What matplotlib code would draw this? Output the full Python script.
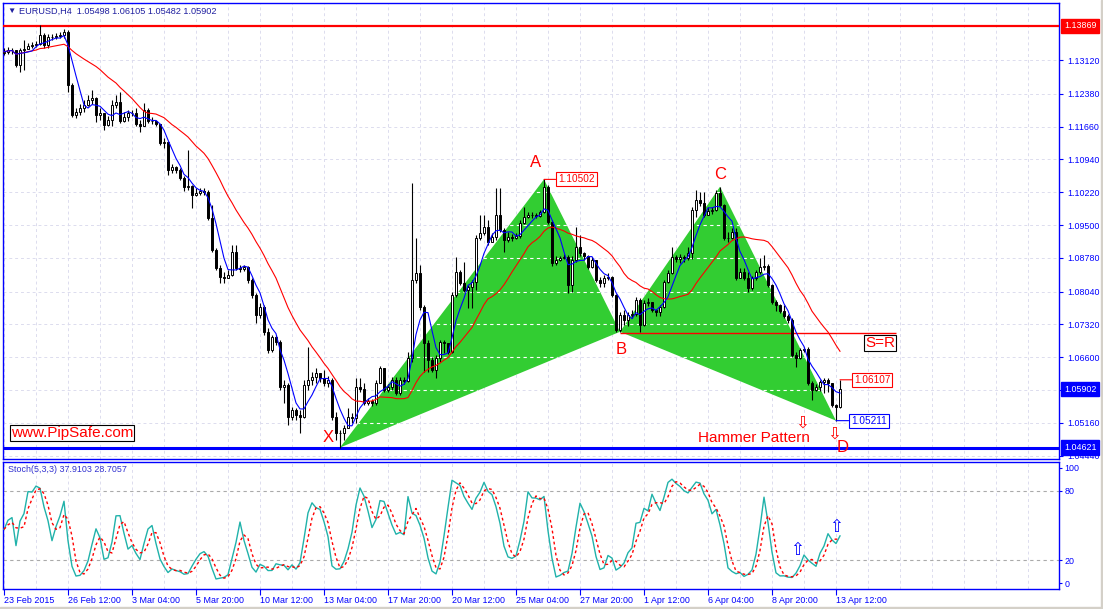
import numpy as np
import pandas as pd
import matplotlib
matplotlib.use('Agg')
import matplotlib.pyplot as plt
from matplotlib.patches import Polygon, Rectangle

plt.rcParams['font.family'] = ['Liberation Sans', 'DejaVu Sans']

# EURUSD H4, bar 0 = 23 Feb 2015 20:00
first_open = 1.1328
closes = [
    1.1330, 1.1334, 1.1334, 1.1301, 1.1334, 1.1336, 1.1343, 1.1345, 1.1347, 1.1367,
    1.1345, 1.1362, 1.1362, 1.1365, 1.1367, 1.1373, 1.1257, 1.1191, 1.1198, 1.1207,
    1.1213, 1.1224, 1.1229, 1.1191, 1.1196, 1.1170, 1.1180, 1.1213, 1.1220, 1.1178,
    1.1187, 1.1196, 1.1196, 1.1172, 1.1167, 1.1202, 1.1178, 1.1178, 1.1172, 1.1130,
    1.1132, 1.1071, 1.1077, 1.1071, 1.1053, 1.1034, 1.1036, 1.1016, 1.1020, 1.1025,
    1.1023, 1.0966, 1.0895, 1.0856, 1.0836, 1.0834, 1.0841, 1.0891, 1.0856, 1.0854,
    1.0858, 1.0829, 1.0797, 1.0753, 1.0770, 1.0715, 1.0676, 1.0705, 1.0694, 1.0595,
    1.0599, 1.0529, 1.0544, 1.0533, 1.0529, 1.0599, 1.0610, 1.0616, 1.0625, 1.0614,
    1.0603, 1.0610, 1.0529, 1.0494, 1.0494, 1.0505, 1.0529, 1.0527, 1.0595, 1.0590,
    1.0560, 1.0564, 1.0560, 1.0603, 1.0636, 1.0588, 1.0595, 1.0610, 1.0581, 1.0610,
    1.0608, 1.0658, 1.0829, 1.0845, 1.0770, 1.0692, 1.0654, 1.0632, 1.0658, 1.0694,
    1.0692, 1.0672, 1.0797, 1.0847, 1.0823, 1.0808, 1.0814, 1.0825, 1.0922, 1.0933,
    1.0946, 1.0913, 1.0924, 1.0972, 1.0939, 1.0917, 1.0924, 1.0922, 1.0926, 1.0955,
    1.0968, 1.0972, 1.0972, 1.0970, 1.0979, 1.1034, 1.0957, 1.0867, 1.0873, 1.0878,
    1.0880, 1.0818, 1.0873, 1.0902, 1.0889, 1.0882, 1.0858, 1.0873, 1.0829, 1.0823,
    1.0834, 1.0836, 1.0797, 1.0720, 1.0753, 1.0742, 1.0753, 1.0755, 1.0786, 1.0731,
    1.0779, 1.0781, 1.0764, 1.0760, 1.0770, 1.0825, 1.0845, 1.0880, 1.0876, 1.0880,
    1.0878, 1.0889, 1.0983, 1.1005, 1.0998, 1.0972, 1.0981, 1.0983, 1.1020, 1.0994,
    1.0922, 1.0922, 1.0935, 1.0834, 1.0847, 1.0834, 1.0812, 1.0834, 1.0847, 1.0858,
    1.0860, 1.0818, 1.0781, 1.0775, 1.0762, 1.0751, 1.0742, 1.0665, 1.0658, 1.0676,
    1.0678, 1.0603, 1.0588, 1.0595, 1.0605, 1.0610, 1.0603, 1.0555, 1.0550, 1.0590,
]
highs = [
    1.1338, 1.1341, 1.1338, 1.1332, 1.1338, 1.1356, 1.1349, 1.1351, 1.1354, 1.1389,
    1.1371, 1.1369, 1.1369, 1.1371, 1.1373, 1.1380, 1.1378, 1.1262, 1.1207, 1.1216,
    1.1224, 1.1235, 1.1246, 1.1231, 1.1207, 1.1191, 1.1189, 1.1224, 1.1235, 1.1242,
    1.1198, 1.1202, 1.1202, 1.1207, 1.1180, 1.1218, 1.1207, 1.1187, 1.1180, 1.1172,
    1.1141, 1.1135, 1.1084, 1.1080, 1.1075, 1.1058, 1.1115, 1.1038, 1.1031, 1.1031,
    1.1031, 1.1027, 1.0994, 1.0900, 1.0862, 1.0847, 1.0851, 1.0906, 1.0906, 1.0862,
    1.0862, 1.0860, 1.0834, 1.0801, 1.0779, 1.0775, 1.0724, 1.0709, 1.0709, 1.0698,
    1.0610, 1.0603, 1.0551, 1.0549, 1.0544, 1.0610, 1.0682, 1.0627, 1.0636, 1.0625,
    1.0632, 1.0619, 1.0614, 1.0540, 1.0501, 1.0512, 1.0549, 1.0538, 1.0614, 1.0614,
    1.0603, 1.0571, 1.0569, 1.0610, 1.0641, 1.0636, 1.0601, 1.0616, 1.0616, 1.0616,
    1.0616, 1.0672, 1.1042, 1.0922, 1.0862, 1.0775, 1.0698, 1.0661, 1.0665, 1.0698,
    1.0698, 1.0687, 1.0803, 1.0880, 1.0851, 1.0869, 1.0818, 1.0829, 1.0928, 1.0972,
    1.0972, 1.0961, 1.0933, 1.1031, 1.1031, 1.0944, 1.0935, 1.0930, 1.0933, 1.0961,
    1.0990, 1.0979, 1.0979, 1.0977, 1.0983, 1.1050, 1.1038, 1.0961, 1.0882, 1.0882,
    1.0887, 1.0884, 1.0882, 1.0946, 1.0928, 1.0891, 1.0884, 1.0880, 1.0869, 1.0836,
    1.0841, 1.0845, 1.0838, 1.0799, 1.0760, 1.0764, 1.0760, 1.0764, 1.0792, 1.0790,
    1.0786, 1.0790, 1.0779, 1.0766, 1.0775, 1.0829, 1.0851, 1.0902, 1.0884, 1.0887,
    1.0884, 1.0902, 1.0990, 1.1027, 1.1022, 1.1022, 1.0990, 1.0990, 1.1027, 1.1034,
    1.0996, 1.0935, 1.0944, 1.0944, 1.0856, 1.0856, 1.0847, 1.0838, 1.0851, 1.0878,
    1.0884, 1.0865, 1.0821, 1.0786, 1.0777, 1.0775, 1.0755, 1.0746, 1.0672, 1.0680,
    1.0682, 1.0682, 1.0608, 1.0601, 1.0610, 1.0614, 1.0614, 1.0588, 1.0558, 1.0611,
]
lows = [
    1.1323, 1.1325, 1.1325, 1.1297, 1.1286, 1.1290, 1.1336, 1.1338, 1.1341, 1.1345,
    1.1338, 1.1338, 1.1356, 1.1358, 1.1360, 1.1360, 1.1242, 1.1187, 1.1185, 1.1191,
    1.1198, 1.1211, 1.1216, 1.1176, 1.1180, 1.1158, 1.1167, 1.1167, 1.1207, 1.1174,
    1.1176, 1.1178, 1.1189, 1.1167, 1.1154, 1.1172, 1.1174, 1.1172, 1.1167, 1.1126,
    1.1119, 1.1060, 1.1064, 1.1064, 1.1049, 1.1025, 1.1027, 1.0988, 1.1014, 1.1016,
    1.1016, 1.0961, 1.0891, 1.0851, 1.0823, 1.0823, 1.0834, 1.0838, 1.0851, 1.0847,
    1.0849, 1.0823, 1.0790, 1.0735, 1.0746, 1.0709, 1.0669, 1.0672, 1.0687, 1.0588,
    1.0560, 1.0512, 1.0522, 1.0522, 1.0494, 1.0527, 1.0588, 1.0599, 1.0603, 1.0605,
    1.0597, 1.0595, 1.0522, 1.0479, 1.0462, 1.0479, 1.0512, 1.0516, 1.0516, 1.0584,
    1.0555, 1.0555, 1.0553, 1.0555, 1.0605, 1.0584, 1.0584, 1.0588, 1.0577, 1.0577,
    1.0601, 1.0605, 1.0650, 1.0823, 1.0764, 1.0627, 1.0627, 1.0627, 1.0614, 1.0650,
    1.0669, 1.0667, 1.0669, 1.0792, 1.0818, 1.0803, 1.0768, 1.0768, 1.0808, 1.0917,
    1.0928, 1.0906, 1.0913, 1.0917, 1.0935, 1.0891, 1.0913, 1.0915, 1.0919, 1.0922,
    1.0952, 1.0966, 1.0966, 1.0966, 1.0968, 1.0977, 1.0952, 1.0860, 1.0862, 1.0871,
    1.0876, 1.0801, 1.0803, 1.0869, 1.0882, 1.0873, 1.0854, 1.0856, 1.0825, 1.0814,
    1.0814, 1.0829, 1.0792, 1.0716, 1.0716, 1.0731, 1.0729, 1.0746, 1.0751, 1.0716,
    1.0729, 1.0773, 1.0760, 1.0751, 1.0751, 1.0768, 1.0823, 1.0843, 1.0869, 1.0867,
    1.0869, 1.0873, 1.0876, 1.0968, 1.0992, 1.0968, 1.0974, 1.0974, 1.0981, 1.0990,
    1.0917, 1.0913, 1.0919, 1.0829, 1.0836, 1.0829, 1.0803, 1.0808, 1.0829, 1.0843,
    1.0851, 1.0814, 1.0777, 1.0762, 1.0757, 1.0746, 1.0735, 1.0661, 1.0639, 1.0656,
    1.0672, 1.0599, 1.0566, 1.0586, 1.0586, 1.0581, 1.0584, 1.0551, 1.0521, 1.0548,
]

price_ticks = [1.13120, 1.12380, 1.11660, 1.10940, 1.10220, 1.09500, 1.08780,
               1.08040, 1.07320, 1.06600, 1.05880, 1.05160, 1.04440]
hidden_tick = 1.05880  # sits under the bid tag
time_labels = ['23 Feb 2015', '26 Feb 12:00', '3 Mar 04:00', '5 Mar 20:00', '10 Mar 12:00',
               '13 Mar 04:00', '17 Mar 20:00', '20 Mar 12:00', '25 Mar 04:00', '27 Mar 20:00',
               '1 Apr 12:00', '6 Apr 04:00', '8 Apr 20:00', '13 Apr 12:00']

# harmonic pattern X-A-B-C-D
pattern_names = ['X', 'A', 'B', 'C', 'D']
pattern_idx = [84, 135, 154, 179, 208]
pattern_price = [1.04621, 1.10502, 1.0716, 1.1034, 1.05211]
pattern_offsets = [(-12, 10), (-8, 17), (1, -18), (0, 12), (7, -27)]

resistance = 1.13869
support = 1.04621
sr_level = 1.0714
bid = 1.05902
last_high = 1.06107

W, H = 1103, 609
blue = '#0000FF'
grid_col = '#DCDCEE'
text_blue = '#2020A0'


def fx(x):
    return x / W


def fy(y):
    return 1 - y / H


fig = plt.figure(figsize=(W / 100, H / 100), dpi=100)
fig.patch.set_facecolor('white')
ax = fig.add_axes([fx(3), fy(459), (1059 - 3) / W, (459 - 3) / H])
ax_st = fig.add_axes([fx(3), fy(589), (1059 - 3) / W, (589 - 462) / H])

idx = np.arange(len(closes))
c = np.array(closes)
h = np.array(highs)
l = np.array(lows)
o = np.concatenate([[first_open], c[:-1]])
h = np.maximum(h, np.maximum(o, c))
l = np.minimum(l, np.minimum(o, c))

for a in (ax, ax_st):
    a.set_xlim(-0.25, 263.75)
    a.set_facecolor('white')
    for s in a.spines.values():
        s.set_color(blue)
        s.set_linewidth(1)
    for i in range(0, 264, 8):
        a.axvline(i, color=grid_col, ls=(0, (3, 3)), lw=0.7, zorder=0)

# main chart
ax.set_ylim(1.04370, 1.14370)
for lvl in price_ticks:
    ax.axhline(lvl, color=grid_col, ls=(0, (3, 3)), lw=0.7, zorder=0)

tri1 = Polygon(list(zip(pattern_idx[:3], pattern_price[:3])), closed=True,
               fc='#32CD32', ec='none', zorder=1)
tri2 = Polygon(list(zip(pattern_idx[2:], pattern_price[2:])), closed=True,
               fc='#32CD32', ec='none', zorder=1)
for tri in (tri1, tri2):
    ax.add_patch(tri)
    for lvl in price_ticks:
        ln = ax.axhline(lvl, color='white', ls=(0, (3, 3)), lw=0.8, zorder=2)
        ln.set_clip_path(tri)

ax.axhline(resistance, color='red', lw=1.6, zorder=3)
ax.axhline(support, color=blue, lw=2.2, zorder=3)
ax.hlines(sr_level, pattern_idx[2], 223, color='red', lw=1, zorder=3)

ax.vlines(idx, l, h, color='black', lw=0.8, zorder=4)
ax.bar(idx, np.abs(c - o), bottom=np.minimum(o, c), width=0.55,
       color=np.where(c >= o, 'white', 'black'), edgecolor='black', linewidth=0.7, zorder=5)

close_s = pd.Series(c)
ax.plot(idx, close_s.rolling(20, min_periods=1).mean(), color='red', lw=0.8, zorder=6)
ax.plot(idx, close_s.rolling(5, min_periods=1).mean(), color=blue, lw=0.8, zorder=6)

for name, i, p, off in zip(pattern_names, pattern_idx, pattern_price, pattern_offsets):
    ax.annotate(name, xy=(i, p), xytext=off, textcoords='offset pixels', ha='center',
                va='center', color='red', fontsize=12, zorder=8)


def price_box(i, p, dx, col):
    ax.annotate(f'{p:.5f}', xy=(i, p), xytext=(dx, 0), textcoords='offset pixels',
                ha='left', va='center', color=col, fontsize=7.2, zorder=8,
                bbox=dict(boxstyle='square,pad=0.2', fc='white', ec=col, lw=0.8),
                arrowprops=dict(arrowstyle='-', color=col, lw=0.8, shrinkA=0, shrinkB=0))


price_box(pattern_idx[1], pattern_price[1], 14, 'red')
price_box(idx[-1], last_high, 14, 'red')
price_box(pattern_idx[4], pattern_price[4], 15, blue)

ax.set_xticks([])
ax.yaxis.tick_right()
ax.set_yticks(price_ticks)
ax.set_yticklabels(['' if v == hidden_tick else f'{v:.5f}' for v in price_ticks])
ax.tick_params(axis='y', direction='out', length=3, width=0.8, colors=blue, labelsize=6.4, pad=3)


def axis_tag(p, bg):
    ax.annotate(f'{p:.5f}', xy=(1, p), xycoords=('axes fraction', 'data'), xytext=(5, 0),
                textcoords='offset pixels', ha='left', va='center', color='white', fontsize=6.4,
                bbox=dict(boxstyle='square,pad=0.3', fc=bg, ec=bg), annotation_clip=False, zorder=10)


axis_tag(resistance, 'red')
axis_tag(bid, blue)
axis_tag(support, blue)

# stochastic (5,3,3)
df = pd.DataFrame({'c': c, 'h': h, 'l': l})
hh = df['h'].rolling(5, min_periods=1).max()
ll = df['l'].rolling(5, min_periods=1).min()
k = 100 * (df['c'] - ll).rolling(3, min_periods=1).sum() / (hh - ll).rolling(3, min_periods=1).sum()
d = k.rolling(3, min_periods=1).mean()

ax_st.set_ylim(-5.2, 105.2)
for lvl in (20, 80):
    ax_st.axhline(lvl, color='#AAAAAA', ls=(0, (3, 3)), lw=0.8, zorder=1)
ax_st.plot(idx, k, color='#20B2AA', lw=1, zorder=3)
ax_st.plot(idx, d, color='red', lw=1, ls=(0, (2, 2)), zorder=4)
ax_st.yaxis.tick_right()
ax_st.set_yticks([0, 20, 80, 100])
ax_st.tick_params(axis='y', direction='out', length=2, width=0.8, colors=blue, labelsize=6.4, pad=2)
ax_st.set_xticks(range(0, 16 * len(time_labels), 16))
ax_st.set_xticklabels(time_labels, ha='left')
ax_st.tick_params(axis='x', direction='out', length=4, width=0.8, colors=blue, labelsize=6.4, pad=1)

# texts
fig.text(fx(7), fy(11), '\u25bc', color=text_blue, fontsize=6, va='center')
fig.text(fx(19), fy(11), 'EURUSD,H4  1.05498 1.06105 1.05482 1.05902', color=text_blue,
         fontsize=6.6, va='center')
fig.text(fx(8), fy(470), 'Stoch(5,3,3) 37.9103 28.7057', color='#3030D0', fontsize=6.4, va='center')
fig.text(fx(72), fy(433), 'www.PipSafe.com', color='red', fontsize=11, ha='center', va='center',
         bbox=dict(boxstyle='square,pad=0.08', fc='white', ec='black', lw=0.8), zorder=9)
fig.text(fx(880), fy(343), 'S=R', color='red', fontsize=11, ha='center', va='center',
         bbox=dict(boxstyle='square,pad=0.08', fc='white', ec='black', lw=0.8), zorder=9)
fig.text(fx(698), fy(438), 'Hammer Pattern', color='red', fontsize=11, va='center')
for x, y in [(802, 423), (834, 434)]:
    fig.text(fx(x), fy(y), '\u21e9', color='red', fontsize=12, ha='center', va='center',
             family='DejaVu Sans')
for x, y in [(797, 550), (836, 527)]:
    fig.text(fx(x), fy(y), '\u21e7', color=blue, fontsize=12, ha='center', va='center',
             family='DejaVu Sans')

fig.patches.append(Rectangle((fx(1101), 0), 2 / W, 1, transform=fig.transFigure,
                             color='#D4D0C8', zorder=0))
fig.patches.append(Rectangle((0, 0), 1, 2 / H, transform=fig.transFigure,
                             color='#D4D0C8', zorder=0))

fig.savefig('out.png', dpi=100)
